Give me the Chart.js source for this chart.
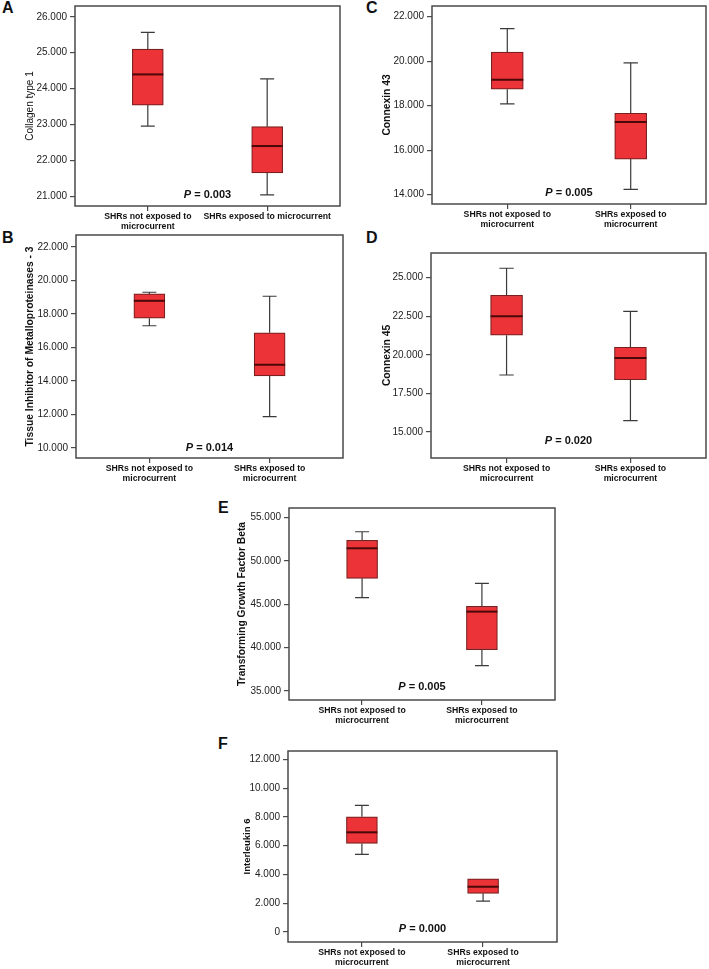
<!DOCTYPE html>
<html>
<head>
<meta charset="utf-8">
<title>SHR microcurrent box plots</title>
<script src="https://cdn.jsdelivr.net/npm/chart.js"></script>
<style>
  html, body { margin: 0; padding: 0; background: #fff; }
  body { position: relative; width: 709px; height: 969px; overflow: hidden; }
  canvas { position: absolute; }
  .tag { position: absolute; font: bold 16px "Liberation Sans", Arial, sans-serif; line-height: 16px; color: #111; }
</style>
</head>
<body>
<div class="tag" style="left:2px;top:0px">A</div>
<div class="tag" style="left:366px;top:0px">C</div>
<div class="tag" style="left:2px;top:230px">B</div>
<div class="tag" style="left:366px;top:230px">D</div>
<div class="tag" style="left:218px;top:500px">E</div>
<div class="tag" style="left:218px;top:736px">F</div>

<script>
// each group: [lower whisker, Q1, median, Q3, upper whisker]
const groupLabels = [["SHRs not exposed to", "microcurrent"], ["SHRs exposed to", "microcurrent"]];
const groupLabelsA = [["SHRs not exposed to", "microcurrent"], "SHRs exposed to microcurrent"];

const collagenNot = [22955, 23540, 24395, 25100, 25565];
const collagenExp = [21040, 21650, 22400, 22940, 24270];
const collagenTicks = [21000, 22000, 23000, 24000, 25000, 26000];

const timpNot = [17300, 17750, 18790, 19200, 19300];
const timpExp = [11870, 14300, 14970, 16880, 19060];
const timpTicks = [10000, 12000, 14000, 16000, 18000, 20000, 22000];

const cx43Not = [18080, 18740, 19170, 20410, 21460];
const cx43Exp = [14240, 15600, 17270, 17660, 19920];
const cx43Ticks = [14000, 16000, 18000, 20000, 22000];

const cx45Not = [18690, 21270, 22500, 23860, 25610];
const cx45Exp = [15730, 18380, 19800, 20490, 22820];
const cx45Ticks = [15000, 17500, 20000, 22500, 25000];

const tgfNot = [45770, 48000, 51470, 52390, 53380];
const tgfExp = [37920, 39770, 44160, 44770, 47420];
const tgfTicks = [35000, 40000, 45000, 50000, 55000];

const il6Not = [5400, 6160, 6930, 8010, 8800];
const il6Exp = [2150, 2690, 3150, 3700, 3700];
const il6Ticks = [0, 2000, 4000, 6000, 8000, 10000, 12000];

const FONT = '"Liberation Sans", Arial, Helvetica, sans-serif';
const RED = '#ec3338';
const BOX_EDGE = '#7a2020';
const MEDIAN = '#4a0808';
const WHISKER = '#3a3a3a';
const FRAME = '#4a4a4a';

// --- panel layout (page pixels) ---
const panels = [
  { title: 'Collagen type 1', bold: false, titleSize: 10, labels: groupLabelsA,
    not: collagenNot, exp: collagenExp, ticks: collagenTicks, yMin: 20730, yMax: 26300,
    frame: { l: 75, t: 6, r: 340, b: 206 }, titleX: 30, p: '0.003', pOff: 11 },
  { title: 'Connexin 43', bold: true, titleSize: 10.3, labels: groupLabels,
    not: cx43Not, exp: cx43Exp, ticks: cx43Ticks, yMin: 13580, yMax: 22480,
    frame: { l: 432, t: 6, r: 706, b: 204 }, titleX: 387, p: '0.005', pOff: 11 },
  { title: 'Tissue Inhibitor of Metalloproteinases - 3', bold: true, titleSize: 10.3, labels: groupLabels,
    not: timpNot, exp: timpExp, ticks: timpTicks, yMin: 9400, yMax: 22720,
    frame: { l: 76, t: 235, r: 343, b: 458 }, titleX: 30, p: '0.014', pOff: 10 },
  { title: 'Connexin 45', bold: true, titleSize: 10.3, labels: groupLabels,
    not: cx45Not, exp: cx45Exp, ticks: cx45Ticks, yMin: 13310, yMax: 26600,
    frame: { l: 431, t: 253, r: 706, b: 458 }, titleX: 387, p: '0.020', pOff: 17 },
  { title: 'Transforming Growth Factor Beta', bold: true, titleSize: 10.3, labels: groupLabels,
    not: tgfNot, exp: tgfExp, ticks: tgfTicks, yMin: 33960, yMax: 56120,
    frame: { l: 289, t: 508, r: 555, b: 700 }, titleX: 242, p: '0.005', pOff: 13 },
  { title: 'Interleukin 6', bold: true, titleSize: 9.5, labels: groupLabels,
    not: il6Not, exp: il6Exp, ticks: il6Ticks, yMin: -690, yMax: 12580,
    frame: { l: 288, t: 751, r: 557, b: 942 }, titleX: 247, p: '0.000', pOff: 13 }
];

function fmt(v) {
  return String(Math.round(v)).replace(/\B(?=(\d{3})+(?!\d))/g, '.');
}

// whiskers, medians, frame and the P value
const boxPlugin = {
  id: 'boxExtras',
  afterDatasetsDraw(chart) {
    const cfg = chart.config.options.panel;
    const ctx = chart.ctx;
    const xs = chart.scales.x, ys = chart.scales.y;
    const area = chart.chartArea;
    const bw = cfg.bw;
    ctx.save();
    [cfg.not, cfg.exp].forEach((g, i) => {
      const x = xs.getPixelForValue(i + 1);
      const yMin = ys.getPixelForValue(g[0]);
      const yQ1 = ys.getPixelForValue(g[1]);
      const yMed = ys.getPixelForValue(g[2]);
      const yQ3 = ys.getPixelForValue(g[3]);
      const yMax = ys.getPixelForValue(g[4]);
      const cap = bw * 0.45;
      ctx.strokeStyle = WHISKER;
      ctx.lineWidth = 1.2;
      ctx.beginPath();
      ctx.moveTo(x, yQ3); ctx.lineTo(x, yMax);
      ctx.moveTo(x, yQ1); ctx.lineTo(x, yMin);
      if (g[4] > g[3]) { ctx.moveTo(x - cap / 2, yMax); ctx.lineTo(x + cap / 2, yMax); }
      ctx.moveTo(x - cap / 2, yMin); ctx.lineTo(x + cap / 2, yMin);
      ctx.stroke();
      ctx.strokeStyle = MEDIAN;
      ctx.lineWidth = 2;
      ctx.beginPath();
      ctx.moveTo(x - bw / 2, yMed); ctx.lineTo(x + bw / 2, yMed);
      ctx.stroke();
    });
    ctx.strokeStyle = FRAME;
    ctx.lineWidth = 1.5;
    ctx.strokeRect(area.left, area.top, area.right - area.left, area.bottom - area.top);

    // --- P = value, P in italic ---
    const fs = 11;
    const fP = 'italic bold ' + fs + 'px ' + FONT;
    const fRest = 'bold ' + fs + 'px ' + FONT;
    const rest = ' = ' + cfg.p;
    ctx.font = fP;
    const wP = ctx.measureText('P').width;
    ctx.font = fRest;
    const wR = ctx.measureText(rest).width;
    const cx = (area.left + area.right) / 2;
    const cy = area.bottom - cfg.pOff;
    ctx.fillStyle = '#111';
    ctx.textBaseline = 'middle';
    ctx.textAlign = 'left';
    ctx.font = fP;
    ctx.fillText('P', cx - (wP + wR) / 2, cy);
    ctx.font = fRest;
    ctx.fillText(rest, cx - (wP + wR) / 2 + wP, cy);
    ctx.restore();
  }
};

function drawPanel(p) {
  const f = p.frame;
  const left = p.titleX - 14;
  const top = f.t - 20;
  const w = f.r + 3 - left;
  const h = f.b + 40 - top;
  const c = document.createElement('canvas');
  c.width = w; c.height = h;
  c.style.left = left + 'px'; c.style.top = top + 'px';
  c.style.width = w + 'px'; c.style.height = h + 'px';
  document.body.appendChild(c);

  const lh = p.titleSize * 1.2;
  const padLeft = p.titleX - lh / 2 - left;
  const yWidth = f.l - left - padLeft;
  p.bw = Math.round((f.r - f.l) * 0.117);

  new Chart(c, {
    type: 'bar',
    data: {
      datasets: [{
        data: [{ x: 1, y: [p.not[1], p.not[3]] }, { x: 2, y: [p.exp[1], p.exp[3]] }],
        backgroundColor: RED,
        borderColor: BOX_EDGE,
        borderWidth: 1.2,
        borderSkipped: false,
        barThickness: p.bw
      }]
    },
    options: {
      panel: p,
      responsive: false,
      animation: false,
      devicePixelRatio: 1,
      layout: { padding: { left: padLeft, top: 20, right: 3, bottom: 0 } },
      plugins: { legend: { display: false }, tooltip: { enabled: false } },
      scales: {
        x: {
          type: 'linear', min: 0.39, max: 2.61, offset: false,
          grid: { offset: false, drawOnChartArea: false, drawTicks: true, tickLength: 5, color: FRAME, lineWidth: 1.2 },
          border: { display: false },
          afterBuildTicks: a => { a.ticks = [{ value: 1 }, { value: 2 }]; },
          afterFit: a => { a.height = 40; },
          ticks: {
            autoSkip: false, maxRotation: 0, padding: 1, color: '#111',
            font: { family: FONT, size: 8.7, weight: 'bold', lineHeight: 1.1 },
            callback: v => p.labels[Math.round(v) - 1]
          }
        },
        y: {
          min: p.yMin, max: p.yMax,
          grid: { drawOnChartArea: false, drawTicks: true, tickLength: 5, color: FRAME, lineWidth: 1.2 },
          border: { display: false },
          afterBuildTicks: a => { a.ticks = p.ticks.map(v => ({ value: v })); },
          afterFit: a => { a.width = yWidth; },
          ticks: {
            padding: 3, color: '#222',
            font: { family: FONT, size: 10 },
            callback: v => fmt(v)
          },
          title: {
            display: true, text: p.title, color: '#111', padding: 0,
            font: { family: FONT, size: p.titleSize, weight: p.bold ? 'bold' : 'normal' }
          }
        }
      }
    },
    plugins: [boxPlugin]
  });
}

panels.forEach(drawPanel);
</script>
</body>
</html>
